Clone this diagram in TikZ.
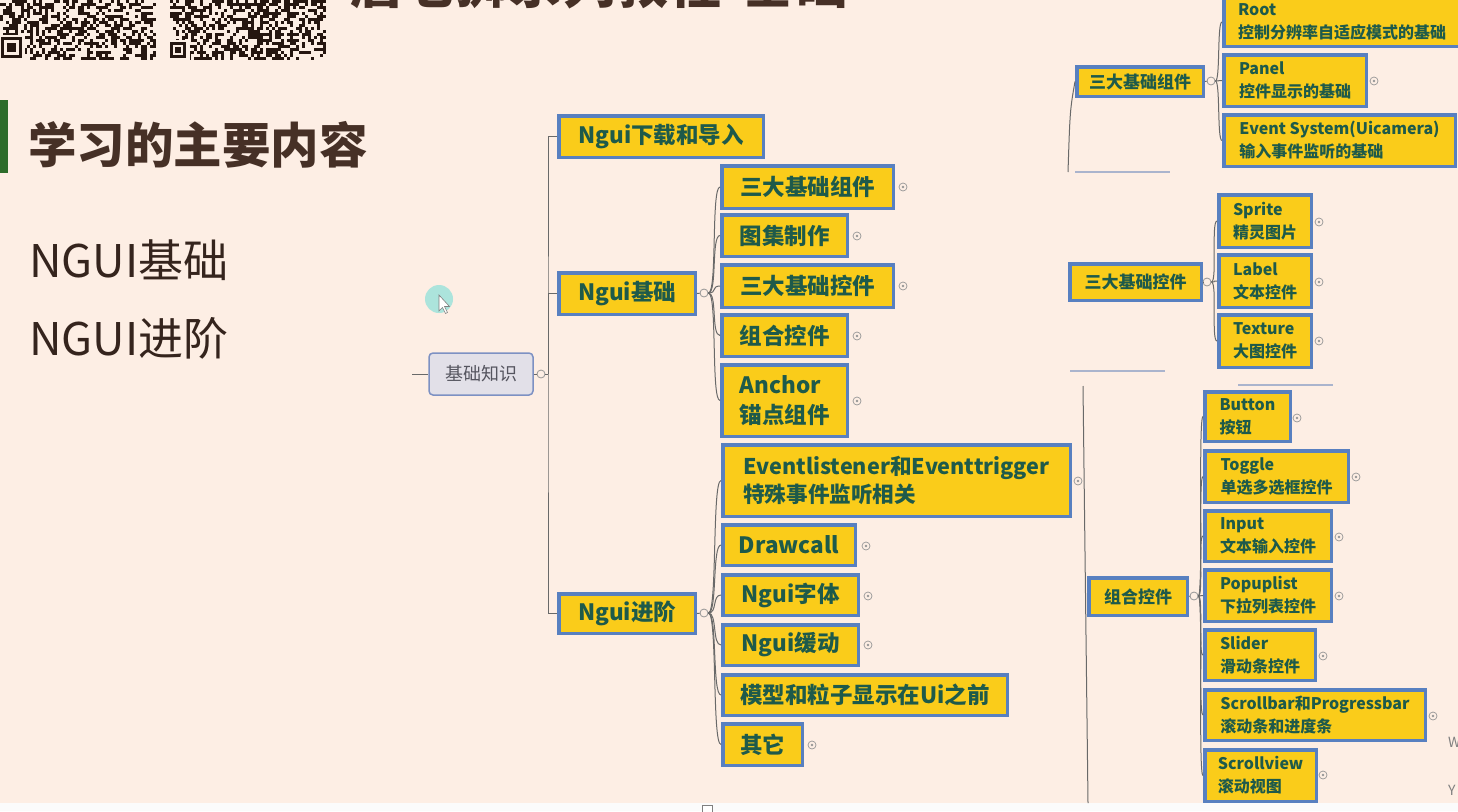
\documentclass[tikz,border=0pt]{standalone}
\usepackage{fontspec}
\setmainfont{Noto Sans CJK SC}
\definecolor{bgc}{RGB}{253,238,228}
\definecolor{byellow}{RGB}{250,204,26}
\definecolor{bblue}{RGB}{88,128,192}
\definecolor{btext}{RGB}{30,90,74}
\definecolor{lgray}{RGB}{105,105,105}
\definecolor{sepc}{RGB}{170,180,205}
\definecolor{titlec}{RGB}{70,48,38}
\definecolor{gbar}{RGB}{45,108,42}
\definecolor{qrc}{RGB}{38,22,16}
\definecolor{mgray}{RGB}{150,150,150}
\tikzset{
  ybox/.style={draw=bblue, line width=3.5pt, fill=byellow, text=btext, inner sep=0pt, align=left},
  conn/.style={draw=lgray, line width=1pt},
  sep/.style={draw=sepc, line width=1.5pt},
  junc/.style={circle, draw=mgray, line width=0.8pt, fill=bgc, minimum size=8pt, inner sep=0pt},
  marker/.style={circle, draw=mgray, line width=0.7pt, minimum size=8pt, inner sep=0pt,
    path picture={\fill[mgray] (path picture bounding box.center) circle (1.3pt);}},
  plain/.style={inner sep=0pt, anchor=west}
}
\newcommand\yb[8]{\node[ybox, minimum width={#4-#2-3.5}, minimum height={#5-#3-3.5},
  font=\bfseries\fontsize{#6}{#7}\selectfont] (#1) at ({(#2+#4)/2},{(#3+#5)/2}) {#8};}
\begin{document}
\begin{tikzpicture}[x=1pt,y=-1pt]
\useasboundingbox (0,0) rectangle (1458,811);
\fill[bgc] (0,0) rectangle (1458,803);
\fill[white!97!gray] (0,803) rectangle (1458,811);
\node[draw=gray, fill=white, minimum width=10pt, minimum height=8pt, inner sep=0pt] (sq) at (707,809) {};

% QR codes
\pgfmathsetseed{4242}
\foreach \i in {0,...,51}{\foreach \j in {0,...,19}{%
  \pgfmathtruncatemacro\q{rnd>0.5?1:0}%
  \ifnum\q=1 \fill[qrc] ({\i*3},{\j*3}) rectangle ++(3,3);\fi}}
\foreach \i in {0,...,51}{\foreach \j in {0,...,19}{%
  \pgfmathtruncatemacro\q{rnd>0.5?1:0}%
  \ifnum\q=1 \fill[qrc] ({170+\i*3},{\j*3}) rectangle ++(3,3);\fi}}
\fill[bgc] (0,35) rectangle (25,60);
\fill[qrc] (1,37) rectangle (22,58);
\fill[bgc] (4,40) rectangle (19,55);
\fill[qrc] (7,43) rectangle (16,52);
\fill[bgc] (168,40) rectangle (190,60);
\fill[qrc] (170,42) rectangle (186,58);
\fill[bgc] (173,45) rectangle (183,55);
\fill[qrc] (175,47) rectangle (181,53);

% clipped title (only its lower edge is visible in the reference)
\begin{scope}
\clip (340,0) rectangle (880,11);
\node[inner sep=0pt, anchor=base west, text=titlec, font=\bfseries\fontsize{53}{53}\selectfont] (ttl) at (350,3) {唐老狮系列教程-基础};
\end{scope}

% left texts
\fill[gbar] (0,100) rectangle (8,173);
\node[plain, text=titlec, font=\bfseries\fontsize{48.5}{48.5}\selectfont] (head) at (28,145) {学习的主要内容};
\node[plain, text=titlec!75!black, font=\fontsize{45}{45}\selectfont] (t1) at (29,260) {NGUI基础};
\node[plain, text=titlec!75!black, font=\fontsize{45}{45}\selectfont] (t2) at (29,338) {NGUI进阶};

% cursor
\node[circle, fill={rgb,255:red,172;green,228;blue,220}, minimum size=28pt, inner sep=0pt] (cur) at (439,299) {};
\draw[fill=white, draw=gray, line width=0.6pt] (cur.center) ++(0,-4) -- ++(0,16) -- ++(3.5,-3.5) -- ++(3,6) -- ++(2,-1) -- ++(-3,-6) -- ++(5,0) -- cycle;

% root node
\node[draw={rgb,255:red,125;green,145;blue,195}, line width=1.5pt, fill={rgb,255:red,226;green,224;blue,232}, rounded corners=4pt,
  minimum width=104pt, minimum height=42pt, inner sep=0pt, text={rgb,255:red,85;green,85;blue,95}, font=\fontsize{18}{18}\selectfont] (root) at (481,374) {基础知识};
\coordinate (lstub) at (412,374);
\draw[conn] (lstub) -- (root.west);
\node[junc] (c0) at (541,374) {};
\draw[conn] (root.east) -- (c0);

% level 1
\yb{dl}{557}{114}{765}{159}{22.5}{26}{Ngui下载和导入}
\yb{jc}{557}{271}{697}{316}{22.5}{26}{Ngui基础}
\yb{jj}{557}{592}{697}{635}{22.5}{26}{Ngui进阶}
\coordinate (tr) at (548,374);
\draw[conn] (dl.west) -| (tr) |- (jj.west);
\draw[conn] (jc.west) -| (tr);
\draw[conn] (c0) -- (tr);

% Ngui基础 children
\yb{a1}{720}{164}{895}{210}{22.5}{26}{三大基础组件}
\yb{a2}{720}{213}{849}{258}{22.5}{26}{图集制作}
\yb{a3}{720}{263}{895}{309}{22.5}{26}{三大基础控件}
\yb{a4}{720}{313}{849}{358}{22.5}{26}{组合控件}
\yb{a5}{720}{363}{849}{438}{22.5}{30}{Anchor\\锚点组件}
\node[junc] (cjc) at (704,293) {};
\draw[conn] (jc.east) -- (cjc);
\foreach \t in {a1,a2,a3,a4,a5} \draw[conn] (cjc.east) .. controls +(9,0) and +(-9,0) .. (\t.west);
\node[marker] (ma1) at (903,187) {};
\node[marker] (ma2) at (857,236) {};
\node[marker] (ma3) at (903,286) {};
\node[marker] (ma4) at (857,336) {};
\node[marker] (ma5) at (857,401) {};

% Ngui进阶 children
\yb{b1}{721}{443}{1072}{518}{21.6}{28}{Eventlistener和Eventtrigger\\特殊事件监听相关}
\yb{b2}{721}{523}{857}{567}{22.5}{26}{Drawcall}
\yb{b3}{721}{573}{860}{617}{22.5}{26}{Ngui字体}
\yb{b4}{721}{623}{860}{667}{22.5}{26}{Ngui缓动}
\yb{b5}{721}{673}{1009}{717}{22.5}{26}{模型和粒子显示在Ui之前}
\yb{b6}{721}{722}{804}{767}{22.5}{26}{其它}
\node[junc] (cjj) at (704,613) {};
\draw[conn] (jj.east) -- (cjj);
\foreach \t in {b1,b2,b3,b4,b5,b6} \draw[conn] (cjj.east) .. controls +(9,0) and +(-9,0) .. (\t.west);
\node[marker] (mb1) at (1078,481) {};
\node[marker] (mb2) at (866,546) {};
\node[marker] (mb3) at (868,596) {};
\node[marker] (mb4) at (868,645) {};
\node[marker] (mb6) at (812,745) {};

% right panel: 三大基础组件
\yb{r1}{1075}{65}{1205}{98}{17}{20}{三大基础组件}
\yb{r1a}{1222}{-4}{1462}{48}{16}{23}{Root\\控制分辨率自适应模式的基础}
\yb{r1b}{1222}{53}{1368}{108}{16}{23}{Panel\\控件显示的基础}
\yb{r1c}{1222}{113}{1457}{168}{16}{23}{Event System(Uicamera)\\输入事件监听的基础}
\node[junc] (cr1) at (1211,81) {};
\draw[conn] (r1.east) -- (cr1);
\foreach \t in {r1a,r1b,r1c} \draw[conn] (cr1.east) .. controls +(5,0) and +(-5,0) .. (\t.west);
\node[marker] (mr1b) at (1374,81) {};
\coordinate (q1) at (1068,172);
\draw[conn] (r1.west) .. controls (1070,110) .. (q1);
\coordinate (s1a) at (1075,172); \coordinate (s1b) at (1170,172);
\draw[sep] (s1a) -- (s1b);

% right panel: 三大基础控件
\yb{r2}{1068}{262}{1203}{302}{17}{20}{三大基础控件}
\yb{r2a}{1217}{193}{1313}{249}{16}{23}{Sprite\\精灵图片}
\yb{r2b}{1217}{253}{1313}{309}{16}{23}{Label\\文本控件}
\yb{r2c}{1217}{313}{1313}{369}{16}{23}{Texture\\大图控件}
\node[junc] (cr2) at (1207,282) {};
\draw[conn] (r2.east) -- (cr2);
\foreach \t in {r2a,r2b,r2c} \draw[conn] (cr2.east) .. controls +(6,0) and +(-6,0) .. (\t.west);
\node[marker] (mr2a) at (1319,222) {};
\node[marker] (mr2b) at (1319,282) {};
\node[marker] (mr2c) at (1319,341) {};
\coordinate (s2a) at (1070,371); \coordinate (s2b) at (1165,371);
\draw[sep] (s2a) -- (s2b);
\coordinate (s3a) at (1238,385); \coordinate (s3b) at (1333,385);
\draw[sep] (s3a) -- (s3b);

% right panel: 组合控件
\coordinate (v1) at (1083,386); \coordinate (v2) at (1088,803);
\draw[conn] (v1) -- (v2);
\yb{r3}{1087}{576}{1189}{617}{17}{20}{组合控件}
\yb{r3a}{1203}{390}{1292}{443}{16}{23}{Button\\按钮}
\yb{r3b}{1203}{449}{1350}{504}{16}{23}{Toggle\\单选多选框控件}
\yb{r3c}{1203}{509}{1333}{563}{16}{23}{Input\\文本输入控件}
\yb{r3d}{1203}{568}{1333}{623}{16}{23}{Popuplist\\下拉列表控件}
\yb{r3e}{1203}{628}{1317}{682}{16}{23}{Slider\\滑动条控件}
\yb{r3f}{1203}{688}{1427}{742}{16}{23}{Scrollbar和Progressbar\\滚动条和进度条}
\yb{r3g}{1203}{748}{1318}{803}{16}{23}{Scrollview\\滚动视图}
\node[junc] (cr3) at (1194,596) {};
\draw[conn] (r3.east) -- (cr3);
\foreach \t in {r3a,r3b,r3c,r3d,r3e,r3f,r3g} \draw[conn] (cr3.east) .. controls +(5,0) and +(-5,0) .. (\t.west);
\node[marker] (mr3a) at (1297,418) {};
\node[marker] (mr3b) at (1356,477) {};
\node[marker] (mr3c) at (1339,537) {};
\node[marker] (mr3d) at (1339,596) {};
\node[marker] (mr3e) at (1323,656) {};
\node[marker] (mr3f) at (1433,716) {};
\node[marker] (mr3g) at (1323,775) {};

% clipped letters at right edge
\node[plain, text=gray, font=\fontsize{14}{14}\selectfont] (lw) at (1448,742) {W};
\node[plain, text=gray, font=\fontsize{14}{14}\selectfont] (ly) at (1448,790) {Y};
\end{tikzpicture}
\end{document}
